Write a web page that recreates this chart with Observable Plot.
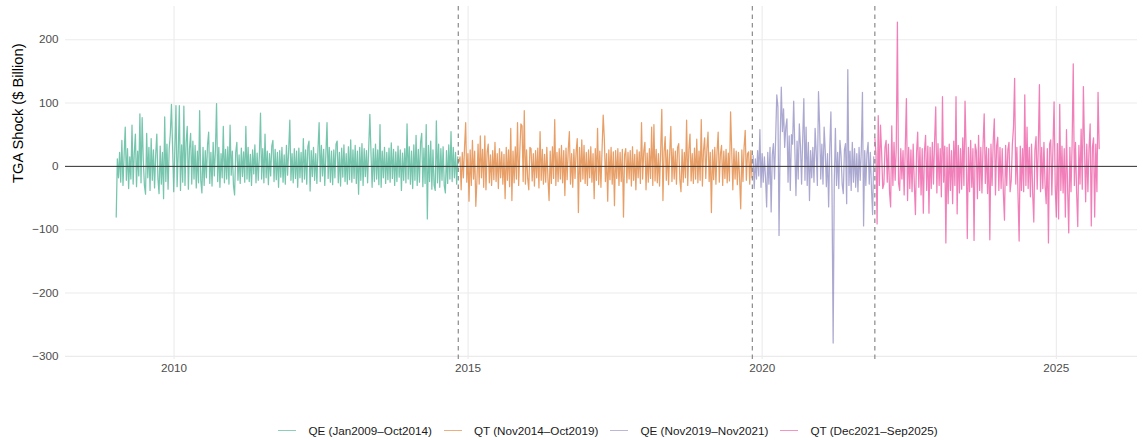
<!DOCTYPE html>
<html><head><meta charset="utf-8">
<script src="https://cdn.jsdelivr.net/npm/d3@7"></script>
<script src="https://cdn.jsdelivr.net/npm/@observablehq/plot@0.6"></script>
<style>
body{margin:0;background:#fff;font-family:"Liberation Sans",Arial,sans-serif;}
#legend{width:1143px;height:45px;box-sizing:border-box;padding-top:26px;padding-left:73px;display:flex;justify-content:center;font-size:11.7px;line-height:14px;color:#1a1a1a}
.item{display:flex;align-items:center;margin:0 6px;white-space:nowrap}
.sw{width:18px;height:1px;margin-right:12px;opacity:0.5}
</style></head><body><div id="chart"></div><div id="legend"></div>
<script>
// Regime labels, colours and weekly start dates
const periodLabels = ["QE (Jan2009–Oct2014)", "QT (Nov2014–Oct2019)", "QE (Nov2019–Nov2021)", "QT (Dec2021–Sep2025)"];
const periodColors = ["#1B9E77", "#D95F02", "#7570B3", "#E7298A"];
const periodStarts = ["2009-01-07", "2014-11-05", "2019-11-06", "2021-12-01"];
const regimeBreaks = ["2014-11-01", "2019-11-01", "2021-12-01"];
const xTickYears = ["2010-01-01", "2015-01-01", "2020-01-01", "2025-01-01"];
const yTicks = [-300, -200, -100, 0, 100, 200];

// Weekly TGA shock values ($ billion)
const qe1 = [
 -80, 12, -18, 22, -25, 41, -30, 18, 62, -22, 28, -35, 15, -20, 65, -28,
 20, 51, -32, 24, -15, 83, -26, 77, 10, -30, -44, 52, -18, 30, -38, 44,
 -22, 26, -34, 18, 51, -20, -43, 32, -28, 22, -51, 78, -24, 35, -36, 28,
 52, 98, 30, -40, 25, 96, -32, 20, 96, -38, 34, -25, 95, -30, 38, 63,
 -36, 28, 52, -28, 40, -20, 33, -34, 24, -26, 88, -22, -42, 30, -30, 25,
 -18, 34, 54, -27, 22, -31, 38, -15, 26, 99, -24, 30, -33, 20, -18, 63,
 -26, 27, -20, 31, -28, 65, -14, 24, -30, -45, 22, 38, -22, 18, -27, 29,
 -16, 23, -25, 63, -20, 30, -24, 19, -30, 26, -12, 34, -26, 21, -22, 17,
 84, -20, 28, -26, 51, -18, 24, -29, 20, -15, 32, 41, -24, 27, -21, 22,
 -33, 25, -17, 30, -25, 18, -28, 33, -14, 26, 73, -22, 20, -26, 28, -19,
 24, -33, 29, -18, 22, -25, 44, -20, 26, -28, 31, 40, -39, 25, -16, 30,
 -22, 20, -27, 28, 69, -24, 33, -15, 27, -30, 21, 69, -19, 30, -25, 24,
 -29, 26, -18, 35, 40, -26, 22, -31, 29, -17, 34, -24, 20, -28, 31, -21,
 42, -25, 26, -19, 33, -27, 24, -44, 30, -22, 36, -30, 28, -16, 25, -26,
 30, 82, 22, -33, 28, -24, 35, -20, 26, -29, 66, -33, 24, -18, 30, -27,
 22, -21, 29, -25, 37, -19, 27, -30, 23, -24, 32, -17, 26, -38, 21, -22,
 28, -26, 67, -20, 31, -28, 24, -35, 34, -22, 49, -30, 27, -25, 38, 52,
 -32, 29, -27, 66, -83, 33, -24, 40, -36, 26, -30, -38, 72, -26, 35, -33,
 28, -22, 31, -30, -42, 25, -27, 34, -20, 55, -24, 30, -18, 22, -28, 15
];
const qt1 = [
 8, 15, -37, 22, -18, 30, 69, -25, 20, -55, 26, -30, 41, -20, 24, -63,
 -22, 35, -28, 48, -18, 27, -33, 48, -37, 22, 35, -26, 18, -30, 25, -21,
 38, -24, 20, -35, 28, -18, 23, -28, 19, -51, 30, -22, 26, -32, 60, -54,
 24, -26, 31, -20, 69, -30, 22, 67, 64, -24, 88, -28, 26, -19, -37, 30,
 28, -23, 20, -31, 25, -18, 29, -34, 55, -22, 27, -28, 19, -25, 30, -20,
 -54, 24, -27, 31, -19, 74, -30, 22, -24, 28, -20, 33, -26, 25, -46, 29,
 -21, 26, 55, -28, 20, -33, 27, -19, 24, 44, -73, 30, -24, 42, -20, 33,
 -27, 22, -30, 26, -18, 31, -25, 20, -51, 28, -22, 60, -29, 24, -33, 27,
 81, 44, -24, 20, -55, 26, -21, 30, -28, 23, -62, 25, -19, 28, -30, 22,
 -24, 27, -80, 18, 28, -26, 22, -20, 25, -31, 31, -22, 19, -37, 26, -18,
 23, -27, 69, -20, 24, 38, -37, 21, -25, 28, -19, 62, -30, 66, -23, 27,
 -26, 20, -31, 25, 90, -54, 23, 47, -22, 26, -29, 21, 63, -24, 28, -20,
 24, -28, 30, 36, -21, -40, 27, -25, 22, -18, 73, -30, 26, 51, -23, 20,
 -27, 29, -20, 43, -26, 24, -22, 74, -31, 25, 45, -19, 28, 54, -24, 22,
 -73, 26, -21, 30, -28, 23, 54, -25, 20, 33, -30, 24, -19, 27, -26, 21,
 -23, 86, 25, -37, 28, -20, 24, -29, 22, -18, -67, 26, -24, 30, 57, -22,
 20, 23, -28, 25, -18
];
const qe2 = [
 17, -35, 12, -20, 25, -15, 58, -33, 20, -25, 15, -18,
 -64, 22, -28, 30, -72, 18, 36, -20, 45, 113, 94, -109,
 40, 125, 55, 91, 30, 62, 75, -25, 48, -38, 50, 35,
 103, 28, -46, 40, -20, 67, 32, -28, 45, 107, -22, 62,
 -30, 38, -54, 25, -18, 30, -25, 60, 22, -30, 118, 64,
 -20, 35, -28, 62, 24, -32, 20, -64, 28, 86, -40, -279,
 -25, 60, -30, 22, -35, 41, 18, -28, -43, 26, 36, -59,
 153, -30, 24, -38, 38, -25, 28, -33, 20, -40, 30, -22,
 26, 117, -94, 25, -30, 20, 38, -28, 22, -35, -76, 15
];
const qt2 = [
 45, 20, -91, 80, -30, 65, 22, -35, -28, 30, 41, -25, 35, -40, -64, 64,
 -30, 38, -22, 30, 228, -26, -38, 28, -20, 25, -45, 32, 107, -54, 30, -35,
 26, -40, 35, -28, -76, 22, 54, -33, 30, -45, 28, -74, 24, 49, -38, 32,
 -74, 30, -35, 38, -28, 40, 94, -42, 36, -30, 28, -48, 110, -25, 32, -121,
 30, -59, 35, -38, 25, -59, 40, -30, 110, -75, 33, -42, 28, -36, 45, -30,
 103, 25, -114, 30, -40, 41, -33, 28, -117, 35, 25, -51, 49, -38, 30, -42,
 35, 83, -27, 30, -43, 28, -116, 35, -30, 40, 75, -45, 32, 46, -38, 30,
 -35, 28, -42, -85, 33, -30, 26, 38, -40, -22, 35, 62, 139, -28, 30, -45,
 -118, 32, -38, 28, -40, 113, -30, 62, -35, 30, -48, 35, -42, -88, 26, 47,
 -36, 32, 129, -40, 30, -35, 38, -30, -59, 28, -121, 35, 42, -45, 30, 102,
 -32, -80, 36, -83, 98, -38, 32, -42, 28, -80, 58, -35, -105, 30, -40, 35,
 162, -30, 38, -42, -95, 33, -28, 59, -36, 126, 30, -56, 35, -40, 28, 67,
 -94, 30, 45, -80, 35, -40, 117, 28
];
const periodValues = [qe1, qt1, qe2, qt2];

// Build a tidy table (weekly observations)
const DAY = 86400000;
const data = [];
periodValues.forEach((vals, p) => {
  const t0 = new Date(periodStarts[p] + "T00:00:00Z").getTime();
  vals.forEach((v, i) => data.push({date: new Date(t0 + i * 7 * DAY), value: v, period: periodLabels[p]}));
});
const xTicks = xTickYears.map(d => new Date(d + "T00:00:00Z"));
const breaks = regimeBreaks.map(d => new Date(d + "T00:00:00Z"));

const chart = Plot.plot({
  width: 1143, height: 395,
  marginLeft: 65, marginRight: 6, marginTop: 6, marginBottom: 36,
  style: {fontFamily: "'Liberation Sans', Arial, sans-serif", fontSize: "11.7px", color: "#4D4D4D", background: "white"},
  x: {type: "utc", domain: [new Date("2008-02-27T00:00:00Z"), new Date("2026-05-20T00:00:00Z")]},
  y: {domain: [-305, 252.5]},
  color: {domain: periodLabels, range: periodColors},
  marks: [
    Plot.gridX(xTicks, {stroke: "#EBEBEB", strokeOpacity: 1, strokeWidth: 1.1}),
    Plot.gridY(yTicks, {stroke: "#EBEBEB", strokeOpacity: 1, strokeWidth: 1.1}),
    Plot.axisX(xTicks, {tickSize: 0, tickPadding: 4, tickFormat: "%Y", label: null}),
    Plot.axisY(yTicks, {tickSize: 0, tickPadding: 7, label: null}),
    Plot.text(["TGA Shock ($ Billion)"], {frameAnchor: "left", rotate: -90, dx: -47.5, fontSize: 14.7, fill: "#000"}),
    Plot.line(data, {x: "date", y: "value", z: "period", stroke: "period", strokeWidth: 1.25, strokeOpacity: 0.6}),
    Plot.ruleY([0], {stroke: "#333", strokeWidth: 1}),
    Plot.ruleX(breaks, {stroke: "#7F7F7F", strokeDasharray: "4.5,4", strokeWidth: 1.1})
  ]
});
document.getElementById("chart").appendChild(chart);

const legend = document.getElementById("legend");
periodLabels.forEach((lab, i) => {
  const item = document.createElement("div");
  item.className = "item";
  const sw = document.createElement("span");
  sw.className = "sw";
  sw.style.background = periodColors[i];
  const tx = document.createElement("span");
  tx.textContent = lab;
  item.appendChild(sw); item.appendChild(tx);
  legend.appendChild(item);
});
</script></body></html>
